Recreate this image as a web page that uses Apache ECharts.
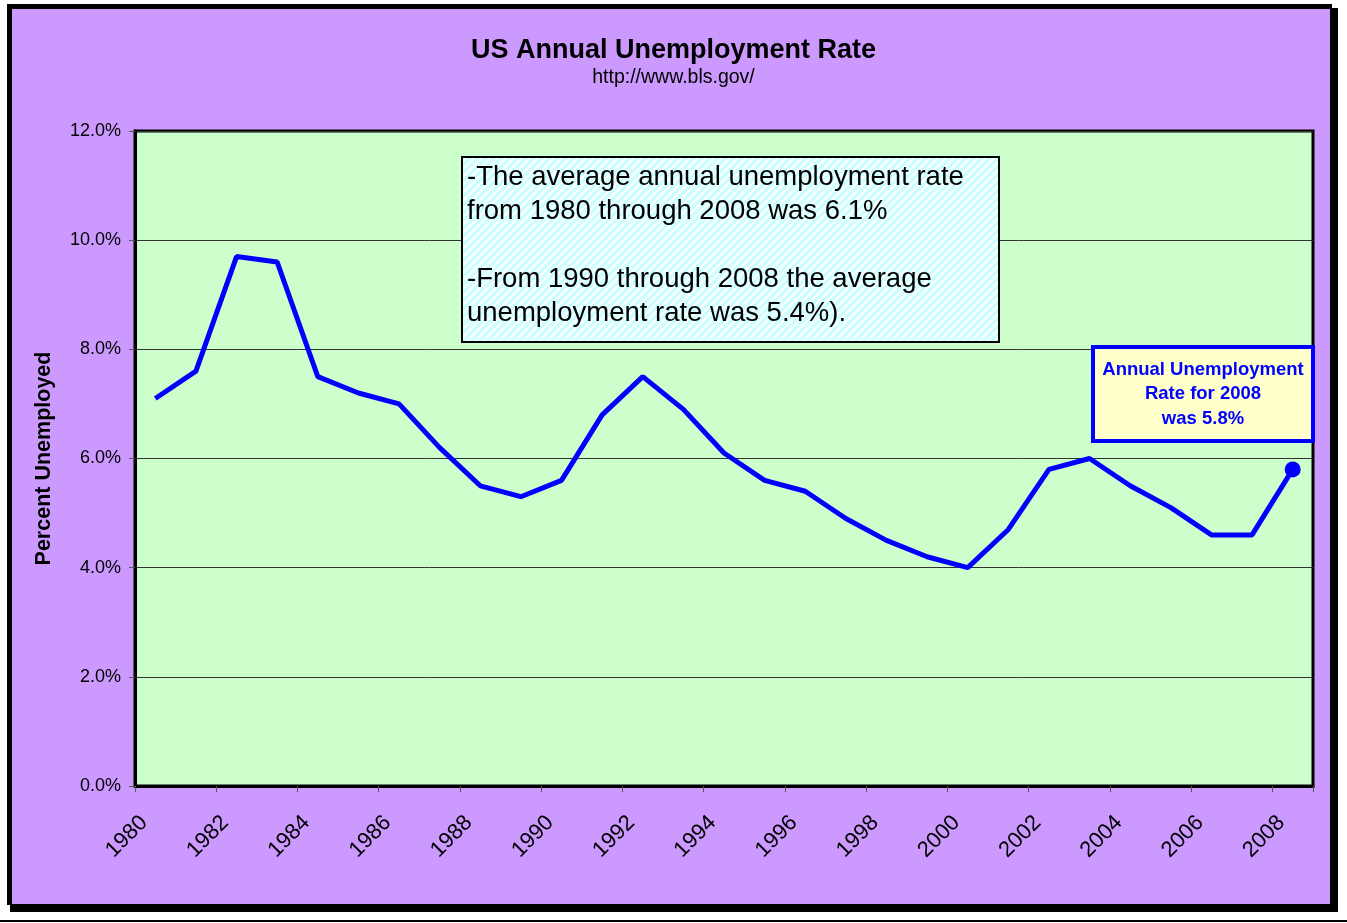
<!DOCTYPE html>
<html>
<head>
<meta charset="utf-8">
<script src="https://cdn.jsdelivr.net/npm/echarts@6/dist/echarts.min.js"></script>
<style>
html,body{margin:0;padding:0;background:#fff;}
#chart{width:1347px;height:923px;}
</style>
</head>
<body>
<div id="chart"></div>
<script>
var years = ['1980','1981','1982','1983','1984','1985','1986','1987','1988','1989','1990','1991','1992','1993','1994','1995','1996','1997','1998','1999','2000','2001','2002','2003','2004','2005','2006','2007','2008'];
var rates = [7.1,7.6,9.7,9.6,7.5,7.2,7.0,6.2,5.5,5.3,5.6,6.8,7.5,6.9,6.1,5.6,5.4,4.9,4.5,4.2,4.0,4.7,5.8,6.0,5.5,5.1,4.6,4.6,5.8];
var yTicks = [0,2,4,6,8,10,12];

var seriesData = rates.map(function(v, i){
  if (i === rates.length - 1) return {value: v, symbol: 'circle', symbolSize: 16};
  return v;
});

// striped pattern for the note box
var pc = document.createElement('canvas');
pc.width = 8; pc.height = 8;
var ctx = pc.getContext('2d');
ctx.fillStyle = '#CCFFFF';
ctx.fillRect(0,0,8,8);
ctx.strokeStyle = '#FFFFFF';
ctx.lineWidth = 2;
ctx.beginPath();
ctx.moveTo(-2,10); ctx.lineTo(10,-2);
ctx.moveTo(-6,6); ctx.lineTo(6,-6);
ctx.moveTo(2,14); ctx.lineTo(14,2);
ctx.stroke();

var chart = echarts.init(document.getElementById('chart'), null, {renderer:'canvas'});
var option = {
  backgroundColor: '#FFFFFF',
  animation: false,
  title: {
    text: 'US Annual Unemployment Rate',
    subtext: 'http://www.bls.gov/',
    left: 'center',
    top: 32,
    itemGap: 4,
    textStyle: {fontFamily: 'Liberation Sans, Arial', fontWeight: 'bold', fontSize: 27, color: '#000'},
    subtextStyle: {fontFamily: 'Liberation Sans, Arial', fontSize: 19.5, color: '#000'}
  },
  grid: {
    left: 135, right: 34, top: 131, bottom: 137,
    show: true, backgroundColor: '#CCFFCC', borderColor: '#000', borderWidth: 3
  },
  xAxis: {
    type: 'category',
    data: years,
    boundaryGap: true,
    axisLine: {show: true, lineStyle: {color: '#000', width: 3}},
    axisTick: {show: true, interval: 1, length: 6, lineStyle: {color: '#555', width: 1}},
    axisLabel: {interval: 1, rotate: 45, margin: 22, padding: [0, 16, 0, 0], fontFamily: 'Liberation Sans, Arial', fontSize: 22, color: '#000'},
    splitLine: {show: false}
  },
  yAxis: {
    type: 'value',
    min: 0, max: 12, interval: 2,
    name: 'Percent Unemployed',
    nameLocation: 'middle',
    nameGap: 80,
    nameTextStyle: {fontFamily: 'Liberation Sans, Arial', fontWeight: 'bold', fontSize: 21.5, color: '#000'},
    axisLine: {show: true, lineStyle: {color: '#000', width: 3}},
    axisTick: {show: true, length: 6, lineStyle: {color: '#555', width: 1}},
    axisLabel: {margin: 14, fontFamily: 'Liberation Sans, Arial', fontSize: 18, color: '#000',
      formatter: function(v){ return yTicks.indexOf(v) >= 0 ? v.toFixed(1) + '%' : ''; }},
    splitLine: {show: true, lineStyle: {color: '#333', width: 1}}
  },
  series: [{
    type: 'line',
    data: seriesData,
    symbol: 'none',
    showSymbol: true,
    lineStyle: {color: '#0000FF', width: 5},
    itemStyle: {color: '#0000FF'},
    z: 5
  }],
  graphic: [
    // outer frame with shadow
    {type: 'rect', shape: {x: 10, y: 8, width: 1328, height: 904}, style: {fill: '#000'}, z: -10, silent: true},
    {type: 'rect', shape: {x: 7, y: 4, width: 1325, height: 901}, style: {fill: '#000'}, z: -9, silent: true},
    {type: 'rect', shape: {x: 12, y: 9, width: 1318, height: 895}, style: {fill: '#CC99FF'}, z: -8, silent: true},
    {type: 'rect', shape: {x: 0, y: 920, width: 1347, height: 2}, style: {fill: '#000'}, z: -8, silent: true},
    // note box
    {type: 'rect', shape: {x: 462, y: 157, width: 537, height: 185},
      style: {fill: {image: pc, repeat: 'repeat'}, stroke: '#000', lineWidth: 2}, z: 10, silent: true},
    {type: 'text', left: 467, top: 160, z: 11, silent: true,
      style: {text: '-The average annual unemployment rate\nfrom 1980 through 2008 was 6.1%\n\n-From 1990 through 2008 the average\nunemployment rate was 5.4%).',
        font: '27.5px "Liberation Sans", Arial', fill: '#000', lineHeight: 34}},
    // 2008 annotation
    {type: 'rect', shape: {x: 1093, y: 347, width: 220, height: 94},
      style: {fill: '#FFFFCC', stroke: '#0000FF', lineWidth: 4}, z: 10, silent: true},
    {type: 'text', x: 1203, y: 394, z: 11, silent: true,
      style: {text: 'Annual Unemployment\nRate for 2008\nwas 5.8%', align: 'center', verticalAlign: 'middle',
        font: 'bold 18.5px "Liberation Sans", Arial', fill: '#0000FF', lineHeight: 24.5}}
  ]
};
chart.setOption(option);
</script>
</body>
</html>
